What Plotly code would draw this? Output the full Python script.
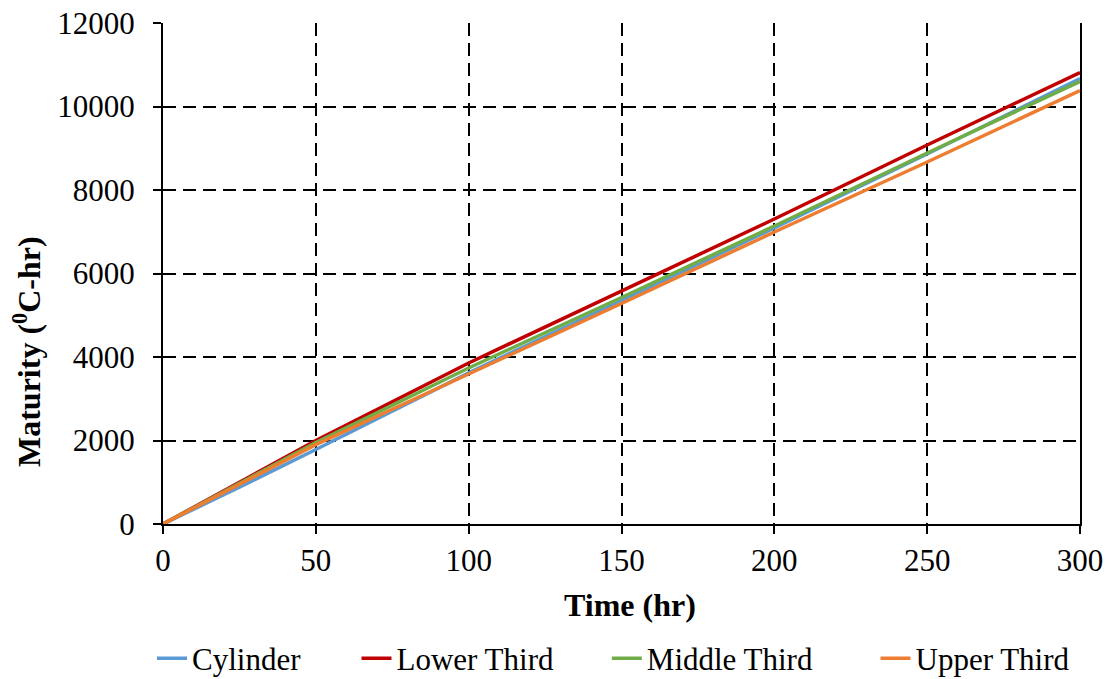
import plotly.graph_objects as go

time_hr = [0, 25, 50, 100, 150, 200, 250, 300]
cylinder = [0, 880, 1785, 3620, 5353, 7090, 8862, 10670]
lower_third = [0, 1010, 2000, 3856, 5569, 7305, 9078, 10815]
middle_third = [0, 980, 1950, 3737, 5425, 7138, 8886, 10600]
upper_third = [0, 960, 1900, 3593, 5281, 6994, 8670, 10380]

x_ticks = [0, 50, 100, 150, 200, 250, 300]
y_ticks = [0, 2000, 4000, 6000, 8000, 10000, 12000]

series = [
    ("Cylinder", cylinder, "#5B9BD5"),
    ("Lower Third", lower_third, "#C00000"),
    ("Middle Third", middle_third, "#70AD47"),
    ("Upper Third", upper_third, "#ED7D31"),
]
legend_x = [-0.012, 0.211, 0.484, 0.777]

font_family = "Liberation Serif, Times New Roman, serif"

fig = go.Figure()
layout_legends = {}
for i, (name, vals, color) in enumerate(series):
    lg = "legend" if i == 0 else f"legend{i+1}"
    fig.add_trace(go.Scatter(x=time_hr, y=vals, mode="lines", name=name,
                             line=dict(color=color, width=3.5), legend=lg))
    layout_legends[lg] = dict(x=legend_x[i], xanchor="left",
                              y=0.03, yref="container", yanchor="middle",
                              orientation="h", font=dict(size=31, family=font_family),
                              bgcolor="rgba(0,0,0,0)")

fig.update_layout(
    width=1108, height=679,
    margin=dict(l=163, r=28, t=23, b=155, autoexpand=False),
    paper_bgcolor="white", plot_bgcolor="white",
    font=dict(family=font_family, size=31, color="black"),
    showlegend=True,
    xaxis=dict(
        range=[0, 300], tickvals=x_ticks, ticktext=[str(v) for v in x_ticks],
        showline=True, linecolor="black", linewidth=2,
        ticks="outside", ticklen=8, tickwidth=2, tickcolor="black",
        showgrid=True, gridcolor="black", gridwidth=1.5, griddash="13px,7px",
        zeroline=False, tickfont=dict(size=31),
    ),
    yaxis=dict(
        range=[0, 12000], tickvals=y_ticks, ticktext=[str(v) for v in y_ticks],
        showline=True, linecolor="black", linewidth=2, mirror=True,
        ticks="outside", ticklen=8, tickwidth=2, tickcolor="black",
        showgrid=True, gridcolor="black", gridwidth=1.5, griddash="13px,7px",
        zeroline=False, tickfont=dict(size=31), ticklabelstandoff=12,
    ),
    annotations=[
        dict(text="<b>Time (hr)</b>", xref="paper", yref="paper",
             x=0.5093, y=-0.1617, xanchor="center", yanchor="middle",
             showarrow=False, font=dict(size=32, family=font_family)),
        dict(text="<b>Maturity (<sup>0</sup>C-hr)</b>", xref="paper", yref="paper",
             x=-0.1483, y=0.3433, xanchor="center", yanchor="middle", textangle=-90,
             showarrow=False, font=dict(size=32, family=font_family)),
    ],
    **layout_legends,
)

fig.write_html("out.html", config={"displayModeBar": False},
               post_script="document.body.style.margin='0';")
